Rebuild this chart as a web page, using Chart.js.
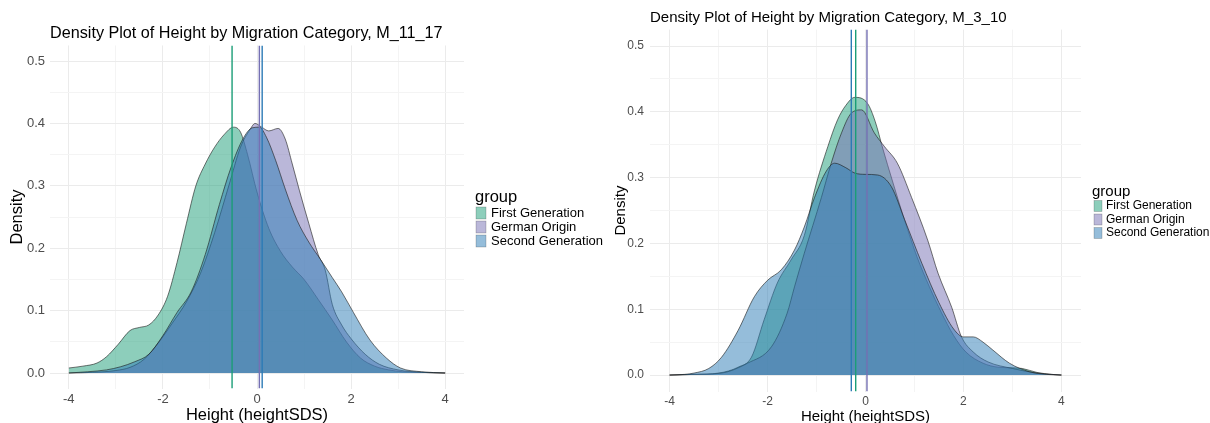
<!DOCTYPE html>
<html>
<head>
<meta charset="utf-8">
<title>Density Plot of Height by Migration Category</title>
<script src="https://cdn.jsdelivr.net/npm/chart.js@4.4.1/dist/chart.umd.min.js"></script>
<style>
  html, body { margin: 0; padding: 0; background: #fff; overflow: hidden; }
  #wrap { position: relative; width: 1210px; height: 423px; overflow: hidden; }
  canvas { position: absolute; top: 0; }
  #chartM11 { left: 0; }
  #chartM3 { left: 610px; }
</style>
</head>
<body>
<div id="wrap">
  <canvas id="chartM11" width="610" height="423"></canvas>
  <canvas id="chartM3" width="620" height="423"></canvas>
</div>
<script>
const FONT = '"Liberation Sans", Arial, Helvetica, sans-serif';

const groupNames = ['First Generation', 'German Origin', 'Second Generation'];
const groupFill = ['rgba(27,158,119,0.5)', 'rgba(117,112,179,0.5)', 'rgba(44,123,182,0.5)'];
const groupLine = ['#1B9E77', '#7570B3', '#2C7BB6'];

const xTicks = [-4, -3, -2, -1, 0, 1, 2, 3, 4];
const densityTicks = [0, 0.05, 0.1, 0.15, 0.2, 0.25, 0.3, 0.35, 0.4, 0.45, 0.5];
const xMin = -4.4, xMax = 4.4;
const yMin = -0.025, yMax = 0.525;

// ---- M_11_17 ----
const m11FirstX = [-4.0, -3.7, -3.4, -3.2, -2.95, -2.7, -2.5, -2.3, -2.1, -1.9, -1.7, -1.5, -1.3, -1.1, -0.9, -0.7, -0.5, -0.35, -0.2, 0.0, 0.25, 0.5, 0.75, 1.0, 1.3, 1.6, 1.9, 2.2, 2.5, 2.8, 3.1, 3.5, 4.0];
const m11FirstY = [0.008, 0.011, 0.016, 0.026, 0.046, 0.068, 0.073, 0.077, 0.093, 0.123, 0.177, 0.24, 0.30, 0.335, 0.362, 0.382, 0.394, 0.386, 0.35, 0.29, 0.232, 0.195, 0.17, 0.15, 0.118, 0.085, 0.05, 0.024, 0.011, 0.005, 0.002, 0.001, 0.0];

const m11GermanX = [-4.0, -3.5, -3.0, -2.7, -2.4, -2.1, -1.8, -1.5, -1.2, -0.9, -0.6, -0.35, -0.15, -0.04, 0.1, 0.25, 0.45, 0.6, 0.75, 0.9, 1.1, 1.3, 1.45, 1.6, 1.8, 2.0, 2.3, 2.6, 3.0, 3.5, 4.0];
const m11GermanY = [0.0, 0.001, 0.004, 0.009, 0.022, 0.048, 0.08, 0.114, 0.16, 0.225, 0.30, 0.362, 0.39, 0.4, 0.394, 0.388, 0.392, 0.375, 0.335, 0.293, 0.24, 0.19, 0.165, 0.11, 0.077, 0.055, 0.03, 0.014, 0.005, 0.001, 0.0];

const m11SecondX = [-4.0, -3.6, -3.2, -2.9, -2.6, -2.3, -2.0, -1.7, -1.4, -1.1, -0.8, -0.55, -0.3, -0.1, 0.05, 0.2, 0.4, 0.6, 0.85, 1.1, 1.35, 1.6, 1.8, 2.05, 2.4, 2.75, 3.05, 3.5, 4.0];
const m11SecondY = [0.0, 0.002, 0.005, 0.01, 0.018, 0.03, 0.06, 0.097, 0.13, 0.19, 0.27, 0.33, 0.375, 0.393, 0.394, 0.378, 0.34, 0.295, 0.245, 0.21, 0.182, 0.153, 0.13, 0.097, 0.053, 0.024, 0.008, 0.002, 0.0];

const m11Means = [-0.53, 0.05, 0.11];

// ---- M_3_10 ----
const m3FirstX = [-4.0, -3.5, -3.0, -2.6, -2.33, -2.07, -1.8, -1.52, -1.25, -1.04, -0.77, -0.57, -0.4, -0.22, 0.04, 0.2, 0.35, 0.55, 0.8, 1.05, 1.3, 1.55, 1.8, 2.05, 2.4, 2.7, 3.0, 3.2, 3.5, 3.8, 4.0];
const m3FirstY = [0.0, 0.001, 0.003, 0.012, 0.027, 0.084, 0.14, 0.175, 0.212, 0.281, 0.347, 0.388, 0.41, 0.422, 0.413, 0.385, 0.345, 0.295, 0.235, 0.18, 0.135, 0.095, 0.06, 0.035, 0.018, 0.012, 0.011, 0.01, 0.004, 0.001, 0.0];

const m3GermanX = [-4.0, -3.5, -2.94, -2.41, -1.92, -1.6, -1.45, -1.25, -0.9, -0.7, -0.49, -0.29, -0.08, 0.18, 0.39, 0.65, 0.94, 1.27, 1.48, 1.76, 1.96, 2.2, 2.5, 3.0, 3.5, 4.0];
const m3GermanY = [0.0, 0.001, 0.003, 0.018, 0.043, 0.094, 0.134, 0.185, 0.27, 0.322, 0.368, 0.398, 0.403, 0.368, 0.347, 0.322, 0.27, 0.205, 0.155, 0.103, 0.058, 0.035, 0.02, 0.01, 0.003, 0.0];

const m3SecondX = [-4.0, -3.7, -3.5, -3.2, -2.94, -2.6, -2.27, -2.0, -1.72, -1.45, -1.25, -1.04, -0.8, -0.63, -0.4, -0.22, 0.0, 0.25, 0.53, 0.8, 1.15, 1.5, 1.8, 2.0, 2.2, 2.4, 2.6, 2.94, 3.35, 3.7, 4.0];
const m3SecondY = [0.0, 0.001, 0.003, 0.01, 0.027, 0.068, 0.119, 0.144, 0.16, 0.19, 0.225, 0.27, 0.31, 0.322, 0.315, 0.307, 0.305, 0.304, 0.286, 0.236, 0.17, 0.11, 0.07, 0.058, 0.058, 0.05, 0.038, 0.018, 0.005, 0.001, 0.0];

const m3Means = [-0.2, 0.03, -0.29];

const isMultiple = (v, step) => Math.abs(v / step - Math.round(v / step)) < 1e-6;

// ggplot-style key drawn to the right of the plot panel
const groupKey = {
  id: 'groupKey',
  afterDraw(chart, args, opts) {
    const ctx = chart.ctx;
    const x0 = chart.chartArea.right + opts.offsetX;
    ctx.save();
    ctx.textAlign = 'left';
    ctx.textBaseline = 'middle';
    ctx.fillStyle = '#000';
    ctx.font = opts.titleSize + 'px ' + FONT;
    ctx.fillText('group', x0, opts.titleY);
    ctx.font = opts.labelSize + 'px ' + FONT;
    groupNames.forEach((name, i) => {
      const cy = opts.firstRowY + i * opts.rowGap;
      ctx.fillStyle = groupFill[i];
      ctx.fillRect(x0 + opts.boxX, cy - opts.boxH / 2, opts.boxW, opts.boxH);
      ctx.strokeStyle = 'rgba(0,0,0,0.3)';
      ctx.lineWidth = 0.6;
      ctx.strokeRect(x0 + opts.boxX, cy - opts.boxH / 2, opts.boxW, opts.boxH);
      ctx.fillStyle = '#000';
      ctx.fillText(name, x0 + opts.textX, cy);
    });
    ctx.restore();
  }
};

function densityDataset(i, xs, ys) {
  return {
    label: groupNames[i],
    data: xs.map((x, k) => ({ x: x, y: ys[k] })),
    fill: 'origin',
    backgroundColor: groupFill[i],
    borderColor: 'rgba(25,25,25,0.75)',
    borderWidth: 0.8,
    pointRadius: 0,
    cubicInterpolationMode: 'monotone',
    order: 3 - i
  };
}

function meanLine(i, x) {
  return {
    label: groupNames[i] + ' mean',
    data: [{ x: x, y: yMin }, { x: x, y: yMax }],
    borderColor: groupLine[i],
    borderWidth: 1.4,
    pointRadius: 0,
    fill: false,
    order: 0
  };
}

function makeChart(id, s) {
  const datasets = [
    densityDataset(0, s.first[0], s.first[1]),
    densityDataset(1, s.german[0], s.german[1]),
    densityDataset(2, s.second[0], s.second[1])
  ];
  s.means.forEach((m, i) => datasets.push(meanLine(i, m)));

  return new Chart(document.getElementById(id), {
    type: 'line',
    data: { datasets: datasets },
    plugins: [groupKey],
    options: {
      responsive: false,
      animation: false,
      events: [],
      layout: { padding: { left: 0, right: s.padRight, top: 0, bottom: 0 } },
      scales: {
        x: {
          type: 'linear',
          min: xMin,
          max: xMax,
          afterBuildTicks: sc => { sc.ticks = xTicks.map(v => ({ value: v })); },
          afterFit: sc => { sc.height = s.xAxisHeight; },
          grid: {
            color: c => isMultiple(c.tick.value, 2) ? '#EBEBEB' : '#F4F4F4',
            lineWidth: 1,
            drawTicks: false
          },
          border: { display: false },
          ticks: {
            autoSkip: false,
            maxRotation: 0,
            color: '#4D4D4D',
            padding: s.xTickPad,
            font: { family: FONT, size: s.tickSize },
            callback: v => isMultiple(v, 2) ? String(v) : ''
          },
          title: {
            display: true,
            text: 'Height (heightSDS)',
            color: '#000',
            font: { family: FONT, size: s.axisTitleSize },
            padding: { top: 0, bottom: s.xTitlePad }
          }
        },
        y: {
          min: yMin,
          max: yMax,
          afterBuildTicks: sc => { sc.ticks = densityTicks.map(v => ({ value: v })); },
          afterFit: sc => { sc.width = s.yAxisWidth; },
          grid: {
            color: c => isMultiple(c.tick.value, 0.1) ? '#EBEBEB' : '#F4F4F4',
            lineWidth: 1,
            drawTicks: false
          },
          border: { display: false },
          ticks: {
            autoSkip: false,
            color: '#4D4D4D',
            padding: s.yTickPad,
            font: { family: FONT, size: s.tickSize },
            callback: v => isMultiple(v, 0.1) ? v.toFixed(1) : ''
          },
          title: {
            display: true,
            text: 'Density',
            color: '#000',
            font: { family: FONT, size: s.axisTitleSize },
            padding: { top: s.yTitlePad, bottom: 0 }
          }
        }
      },
      plugins: {
        legend: { display: false },
        tooltip: { enabled: false },
        title: {
          display: true,
          text: s.title,
          align: 'start',
          fullSize: false,
          color: '#000',
          font: { family: FONT, size: s.titleSize, weight: 'normal' },
          padding: s.titlePad
        },
        groupKey: s.key
      }
    }
  });
}

makeChart('chartM11', {
  title: 'Density Plot of Height by Migration Category, M_11_17',
  first: [m11FirstX, m11FirstY],
  german: [m11GermanX, m11GermanY],
  second: [m11SecondX, m11SecondY],
  means: m11Means,
  padRight: 146,
  xAxisHeight: 34.4,
  yAxisWidth: 50,
  xTickPad: 3.5,
  yTickPad: 5,
  yTitlePad: 8,
  xTitlePad: -2,
  tickSize: 13,
  axisTitleSize: 16.5,
  titleSize: 16.2,
  titlePad: { top: 23.5, bottom: 2.5 },
  key: { offsetX: 11, titleY: 197, titleSize: 16.5, labelSize: 13, firstRowY: 213, rowGap: 14, boxX: 1, boxW: 10, boxH: 12, textX: 16 }
});

makeChart('chartM3', {
  title: 'Density Plot of Height by Migration Category, M_3_10',
  first: [m3FirstX, m3FirstY],
  german: [m3GermanX, m3GermanY],
  second: [m3SecondX, m3SecondY],
  means: m3Means,
  padRight: 149,
  xAxisHeight: 31.5,
  yAxisWidth: 40,
  xTickPad: 3,
  yTickPad: 6,
  yTitlePad: 2,
  xTitlePad: -3,
  tickSize: 12,
  axisTitleSize: 15,
  titleSize: 15,
  titlePad: { top: 9, bottom: 2.6 },
  key: { offsetX: 11, titleY: 192, titleSize: 15, labelSize: 12, firstRowY: 206, rowGap: 13.5, boxX: 2, boxW: 8, boxH: 11, textX: 14 }
});
</script>
</body>
</html>
